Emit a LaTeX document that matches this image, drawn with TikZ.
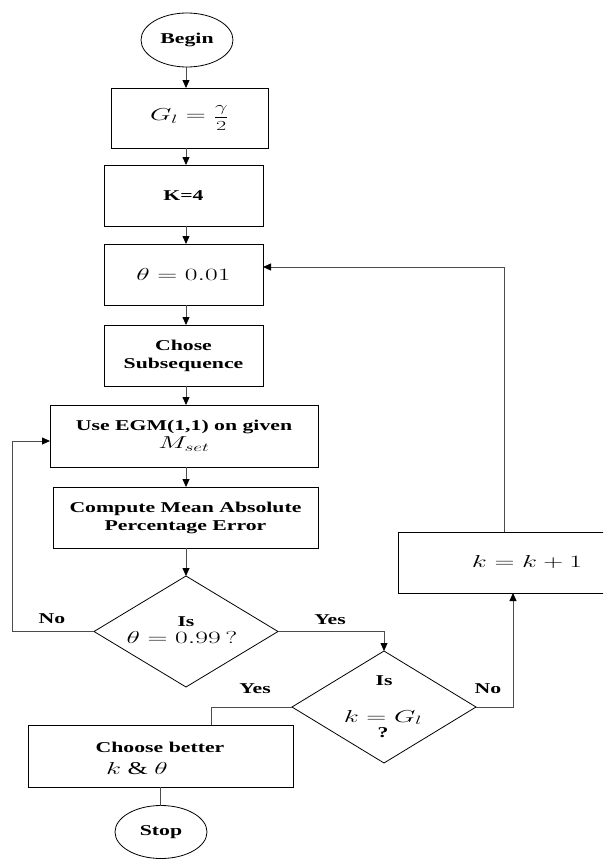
\documentclass[tikz,border=0pt]{standalone}
\usepackage{fontspec}
\setmainfont{Liberation Serif}[FakeStretch=1.45]
\usepackage{graphicx}
\usetikzlibrary{shapes.geometric,arrows.meta}
% widened math, to sit with the stretched text face
\newcommand{\wm}[1]{\scalebox{1.6}[1]{$#1$}}

\begin{document}
\begin{tikzpicture}[x=1pt,y=-1pt,
  every node/.style={inner sep=0pt, outer sep=0pt},
  boxtxt/.style={font=\bfseries\fontsize{15}{18}\selectfont},
  mathtxt/.style={font=\fontsize{18}{21}\selectfont},
  proc/.style={draw=black, line width=0.8pt, rectangle, align=center, boxtxt},
  term/.style={draw=black, line width=0.8pt, ellipse, minimum width=92pt, minimum height=54pt, boxtxt},
  dec/.style={draw=black, line width=0.8pt, diamond, minimum width=184pt, minimum height=111pt},
  conn/.style={draw=black!70, line width=0.8pt},
  arr/.style={conn, -{Triangle[length=8pt,width=7pt,color=black]}},
]
\useasboundingbox (0,0) rectangle (603,859);
\clip (0,0) rectangle (603,859);

% main column
\coordinate (col) at (186,0);
\node[term] (begin) at (187,40) {Begin};
\node[proc, mathtxt, minimum width=157pt, minimum height=60pt] (gl) at (189.5,118)
  {\wm{G_l = \mbox{\scalebox{0.8}{$\displaystyle\frac{\gamma}{2}$}}}};
\node[proc, minimum width=159pt, minimum height=61pt] (k4) at (183.5,195.5) {K=4};
\node[proc, mathtxt, minimum width=159pt, minimum height=61pt] (th) at (183.5,274.5) {\wm{\theta = 0.01}};
\node[proc, minimum width=159pt, minimum height=61pt] (chose) at (183.5,355.5) {Chose\\Subsequence};
\node[proc, minimum width=268pt, minimum height=62pt] (egm) at (184,436) {Use EGM(1,1) on given\\{\mdseries\fontsize{18}{21}\selectfont\wm{M_{set}}}};
\node[proc, minimum width=265pt, minimum height=61pt] (mape) at (185.5,517.5) {Compute Mean Absolute\\Percentage Error};

% decisions
\node[dec] (d1) at (186,631.5) {};
\node[boxtxt, anchor=base] (d1is) at (186,626) {Is};
\node[mathtxt, anchor=base] (d1q) at (182,643) {\wm{\theta = 0.99\,?}};

\node[dec, minimum height=112pt] (d2) at (384,707) {};
\node[boxtxt, anchor=base] (d2is) at (384,685) {Is};
\node[mathtxt, anchor=base] (d2q) at (383,722) {\wm{k = G_l}};
\node[boxtxt, anchor=base] (d2qm) at (383,737) {?};

% increment and end
\node[proc, mathtxt, minimum width=258pt, minimum height=61pt] (kk) at (527,562.5) {\wm{k = k + 1}};
\node[proc, minimum width=265pt, minimum height=62pt] (choose) at (160.5,756) {};
\node[boxtxt, anchor=base] (chtxt) at (160,752) {Choose better};
\node[mathtxt, anchor=base] (chk) at (137,774) {\wm{k}\ \&\ \wm{\theta}};
\node[term, minimum height=53pt] (stop) at (161,832) {Stop};

% branch labels
\node[boxtxt, anchor=base] (no1) at (52,623) {No};
\node[boxtxt, anchor=base] (yes1) at (330,624) {Yes};
\node[boxtxt, anchor=base] (yes2) at (255,693) {Yes};
\node[boxtxt, anchor=base] (no2) at (488,693) {No};

% connectors
\draw[arr] (begin.south -| col) -- (gl.north -| col);
\draw[arr] (gl.south -| col) -- (k4.north -| col);
\draw[arr] (k4.south -| col) -- (th.north -| col);
\draw[arr] (th.south -| col) -- (chose.north -| col);
\draw[arr] (chose.south -| col) -- (egm.north -| col);
\draw[arr] (egm.south -| col) -- (mape.north -| col);
\draw[arr] (mape.south -| col) -- (d1.north);
\draw[arr] (d1.west) -- ++(-82,0) |- ([yshift=-5pt]egm.west);
\draw[arr] (d1.east) -| (d2.north);
\draw[conn] (d2.west) -| ([xshift=50.5pt]choose.north);
\draw[arr] (d2.east) -| ([xshift=-14pt]kk.south);
\draw[arr] ([xshift=-23pt]kk.north) |- ([yshift=7.5pt]th.east);
\draw[conn] (choose.south) -- (choose.south |- stop.north);
\end{tikzpicture}
\end{document}
